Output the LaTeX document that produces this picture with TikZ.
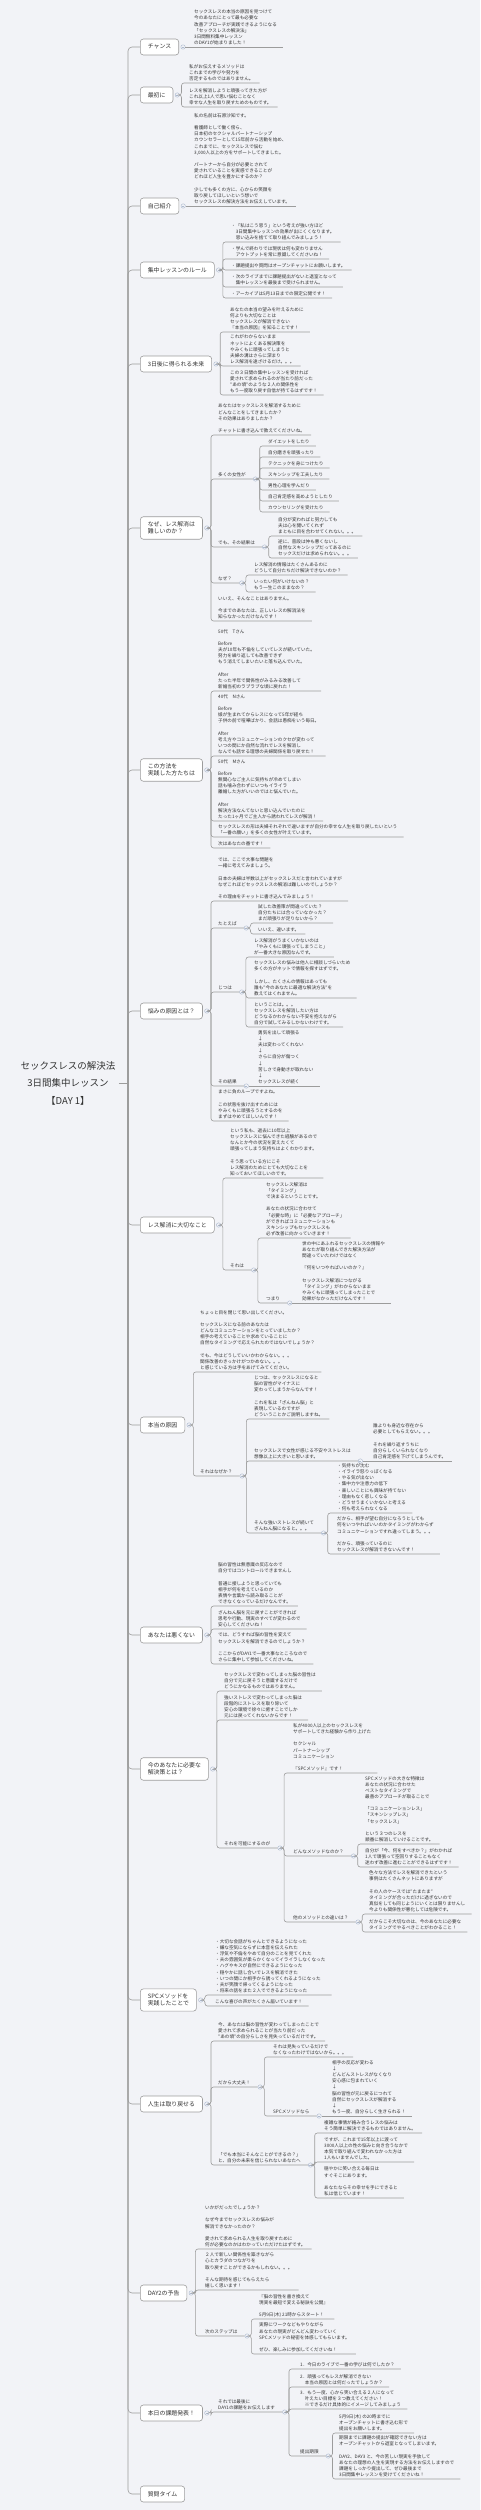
\documentclass[tikz,border=0pt]{standalone}
\usepackage{fontspec}
\setmainfont{Noto Sans CJK JP}
\definecolor{bgc}{HTML}{F2F3F7}
\definecolor{lnc}{HTML}{9C9C9C}
\definecolor{fdc}{HTML}{AEBBD0}
\definecolor{txc}{HTML}{333333}
\newcommand\gapline{\\[6.15pt]}

\begin{document}
\begin{tikzpicture}[x=1pt,y=-1pt,
  ln/.style={draw=lnc,line width=.6pt,rounded corners=2.5pt},
  topic/.style={draw=lnc,fill=white,rounded corners=3pt,line width=.6pt,anchor=west,align=left,inner xsep=7.5pt,inner ysep=4.8pt,minimum height=16pt,font=\fontsize{5.9}{7.4}\selectfont,text=txc},
  txt/.style={anchor=south west,align=left,inner xsep=0pt,inner ysep=2.3pt,text depth=0pt,font=\fontsize{4.6}{6.15}\selectfont,text=txc},
  fold/.style={circle,draw=fdc,fill=bgc,line width=.45pt,inner sep=0pt,minimum size=4.4pt,path picture={\draw[fdc,line width=.4pt] ([xshift=-1.1pt]path picture bounding box.center) -- ([xshift=1.1pt]path picture bounding box.center);}}]
  \useasboundingbox (0,0) rectangle (480,2510);
  \fill[bgc] (0,0) rectangle (480,2510);

  \node[font=\fontsize{9.5}{17.5}\selectfont,align=center,text=txc] (root) at (68,1083) {セックスレスの解決法\\3日間集中レッスン\\【DAY 1】};
  \coordinate (hub) at (128,1083);

  \node[topic] (chance) at (140,47) {チャンス};
  \node[topic] (first) at (140,95) {最初に};
  \node[topic] (intro) at (140,206) {自己紹介};
  \node[topic] (rules) at (140,270) {集中レッスンのルール};
  \node[topic] (future) at (140,364) {3日後に得られる未来};
  \node[topic] (why) at (140,528) {なぜ、レス解消は\\難しいのか？};
  \node[topic] (cases) at (140,770) {この方法を\\実践した方たちは};
  \node[topic] (cause) at (140,1011) {悩みの原因とは？};
  \node[topic] (key) at (140,1225) {レス解消に大切なこと};
  \node[topic] (real) at (140,1425) {本当の原因};
  \node[topic] (notyou) at (140,1635) {あなたは悪くない};
  \node[topic] (need) at (140,1769) {今のあなたに必要な\\解決策とは？};
  \node[topic] (spc) at (140,2000) {SPCメソッドを\\実践したことで};
  \node[topic] (life) at (140,2104) {人生は取り戻せる};
  \node[topic] (day2) at (140,2293) {DAY2の予告};
  \node[topic] (task) at (140,2413) {本日の課題発表！};
  \node[topic] (qa) at (140,2494) {質問タイム};

  \draw[ln] (root.east) -- (hub);
  \foreach \t in {chance,first,intro,rules,future,why,cases,cause,key,real,notyou,need,spc,life,day2,task,qa}
    \draw[ln,rounded corners=4pt] (hub) |- (\t.west);
  \foreach \t in {chance,first,intro,rules,future,why,cases,cause,key,real,notyou,need,spc,life,day2,task}
    \node[fold] (\t f) at ([xshift=4pt]\t.east) {};

  \node[txt] (chance1) at (194,47) {セックスレスの本当の原因を見つけて\\今のあなたにとって最も必要な\\改善アプローチが実践できるようになる\\「セックスレスの解決法」\\3日間無料集中レッスン\\のDAY1が始まりました！};
  \node[txt] (first1) at (189,83) {私がお伝えするメソッドは\\これまでの学びや努力を\\否定するものではありません。};
  \node[txt] (first2) at (189,107) {レスを解消しようと頑張ってきた方が\\これ以上1人で思い悩むことなく\\幸せな人生を取り戻すためのものです。};
  \node[txt] (intro1) at (194,206) {私の名前は石原沙知です。\gapline 看護師として働く傍ら、\\日本初のセクシャルパートナーシップ\\カウンセラーとして15年前から活動を始め、\\これまでに、セックスレスで悩む\\3,000人以上の方をサポートしてきました。\gapline パートナーから自分が必要とされて\\愛されていることを実感できることが\\どれほど人生を豊かにするのか？\gapline 少しでも多くの方に、心からの笑顔を\\取り戻してほしいという想いで\\セックスレスの解決方法をお伝えしています。};
  \foreach \k in {chance1} \draw[ln] (chancef.east) -- ([xshift=6pt]\k.south east);
  \foreach \k in {intro1} \draw[ln] (introf.east) -- ([xshift=6pt]\k.south east);
  \foreach \k in {first1,first2} \draw[ln] (firstf.east) -- ++(1.8,0) |- ([xshift=6pt]\k.south east);

  \node[txt] (rules1) at (231,242) {・「私はこう思う」という考えが強い方ほど\\　3日間集中レッスンの効果が出にくくなります。\\　思い込みを捨てて取り組んでみましょう！};
  \node[txt] (rules2) at (231,259) {・学んで終わりでは現状は何も変わりません\\　アウトプットを常に意識してくださいね！};
  \node[txt] (rules3) at (231,270) {・課題提出や質問はオープンチャットにお願いします。};
  \node[txt] (rules4) at (231,287) {・次のライブまでに課題提出がないと退室となって\\　集中レッスンを最後まで受けられません。};
  \node[txt] (rules5) at (231,298) {・アーカイブは5月13日までの限定公開です！};
  \foreach \k in {rules1,rules2,rules3,rules4,rules5} \draw[ln] (rulesf.east) -- ++(1.8,0) |- ([xshift=6pt]\k.south east);

  \node[txt] (future1) at (230,332) {あなたの本当の望みを叶えるために\\何よりも大切なことは\\セックスレスが解消できない\\『本当の原因』を知ることです！};
  \node[txt] (future2) at (230,366) {これがわからないまま\\ネットによくある解決策を\\やみくもに頑張ってしまうと\\夫婦の溝はさらに深まり\\レス解消を遠ざけるだけ。。。};
  \node[txt] (future3) at (230,395) {この３日間の集中レッスンを受ければ\\愛されて求められるのが当たり前だった\\“あの頃”のような２人の関係性を\\もう一度取り戻す自信が持てるはずです！};
  \foreach \k in {future1,future2,future3} \draw[ln] (futuref.east) -- ++(1.8,0) |- ([xshift=6pt]\k.south east);

  \node[txt] (why1) at (218,435) {あなたはセックスレスを解消するために\\どんなことをしてきましたか？\\その効果はありましたか？\gapline チャットに書き込んで教えてくださいね。};
  \node[txt] (whyA) at (218,479) {多くの女性が};
  \node[txt] (whyB) at (218,547) {でも、その結果は};
  \node[txt] (whyC) at (218,583) {なぜ？};
  \node[txt] (why5) at (218,621) {いいえ、そんなことはありません。\gapline 今までのあなたは、正しいレスの解消法を\\知らなかっただけなんです！};
  \foreach \k in {whyA,whyB,whyC} \node[fold] (\k f) at ([xshift=9.5pt]\k.south east) {};
  \foreach \k in {why1,why5} \draw[ln] (whyf.east) -- ++(1.8,0) |- ([xshift=6pt]\k.south east);
  \foreach \k in {whyA,whyB,whyC} \draw[ln] (whyf.east) -- ++(1.8,0) |- (\k f.west);
  \foreach \t [count=\i] in {ダイエットをしたり,自分磨きを頑張ったり,テクニックを身につけたり,スキンシップを工夫したり,男性心理を学んだり,自己肯定感を高めようとしたり,カウンセリングを受けたり}{
    \node[txt] (whyA\i) at (268,435+11*\i) {\t};
    \draw[ln] (whyAf.east) -- ++(1.8,0) |- ([xshift=6pt]whyA\i.south east);
  }
  \node[txt] (whyB1) at (278,536) {自分が変わればと努力しても\\夫は心を開いてくれず\\まともに目を合わせてくれない。。。};
  \node[txt] (whyB2) at (278,558) {逆に、普段は仲も悪くないし\\自然なスキンシップだってあるのに\\セックスだけは求められない。。。};
  \node[txt] (whyC1) at (254,575) {レス解消の情報はたくさんあるのに\\どうして自分たちだけ解決できないのか？};
  \node[txt] (whyC2) at (254,592) {いったい何がいけないの？\\もう一生このままなの？};
  \foreach \k in {whyB1,whyB2} \draw[ln] (whyBf.east) -- ++(1.8,0) |- ([xshift=6pt]\k.south east);
  \foreach \k in {whyC1,whyC2} \draw[ln] (whyCf.east) -- ++(1.8,0) |- ([xshift=6pt]\k.south east);

  \node[txt] (cases1) at (218,691) {50代　Tさん\gapline Before\\夫が10年も不倫をしていてレスが続いていた。\\努力を繰り返しても改善できず\\もう消えてしまいたいと落ち込んでいた。\gapline After\\たった半年で関係性がみるみる改善して\\新婚当初のラブラブな頃に戻れた！};
  \node[txt] (cases2) at (218,756) {40代　Nさん\gapline Before\\娘が生まれてからレスになって5年が経ち\\子供の前で喧嘩ばかり、会話は愚痴をいう毎日。\gapline After\\考え方やコミュニケーションのクセが変わって\\いつの間にか自然な流れでレスを解消し\\なんでも話せる理想の夫婦関係を取り戻せた！};
  \node[txt] (cases3) at (218,821) {50代　Mさん\gapline Before\\無関心なご主人に気持ちが冷めてしまい\\話も噛み合わずにいつもイライラ\\離婚した方がいいのではと悩んでいた。\gapline After\\解決方法なんてないと思い込んでいたのに\\たった1ヶ月でご主人から誘われてレスが解消！};
  \node[txt] (cases4) at (218,837) {セックスレスの形は夫婦それぞれで違いますが自分の幸せな人生を取り戻したいという\\「一番の願い」を多くの女性が叶えています。};
  \node[txt] (cases5) at (218,848) {次はあなたの番です！};
  \foreach \k in {cases1,cases2,cases3,cases4,cases5} \draw[ln] (casesf.east) -- ++(1.8,0) |- ([xshift=6pt]\k.south east);

  \node[txt] (cause1) at (218,901) {では、ここで大事な問題を\\一緒に考えてみましょう。\gapline 日本の夫婦は半数以上がセックスレスだと言われていますが\\なぜこれほどセックスレスの解消は難しいのでしょうか？\gapline その理由をチャットに書き込んでみましょう！};
  \node[txt] (causeA) at (218,928) {たとえば};
  \node[txt] (causeB) at (218,992) {じつは};
  \node[txt] (causeC) at (218,1086) {その結果};
  \node[txt] (cause5) at (218,1121) {まさに負のループですよね。\gapline この状態を抜け出すためには\\やみくもに頑張ろうとするのを\\まずはやめてほしいんです！};
  \foreach \k in {causeA,causeB,causeC} \node[fold] (\k f) at ([xshift=9.5pt]\k.south east) {};
  \foreach \k in {cause1,cause5} \draw[ln] (causef.east) -- ++(1.8,0) |- ([xshift=6pt]\k.south east);
  \foreach \k in {causeA,causeB,causeC} \draw[ln] (causef.east) -- ++(1.8,0) |- (\k f.west);
  \node[txt] (causeA1) at (258,923) {試した改善策が間違っていた？\\自分たちには合っていなかった？\\まだ頑張りが足りないから？};
  \node[txt] (causeA2) at (258,934) {いいえ、違います。};
  \node[txt] (causeB1) at (254,957) {レス解消がうまくいかないのは\\「やみくもに頑張ってしまうこと」\\が一番大きな原因なんです。};
  \node[txt] (causeB2) at (254,998) {セックスレスの悩みは他人に相談しづらいため\\多くの方がネットで情報を探すはずです。\gapline しかし、たくさんの情報はあっても\\誰も“今のあなたに最適な解決方法”を\\教えてはくれません。};
  \node[txt] (causeB3) at (254,1027) {ということは。。。\\セックスレスを解消したい方は\\どうなるかわからない不安を抱えながら\\自分で試してみるしかないわけです。};
  \node[txt] (causeC1) at (258,1086) {勇気を出して頑張る\\↓\\夫は変わってくれない\\↓\\さらに自分が傷つく\\↓\\苦しさで身動きが取れない\\↓\\セックスレスが続く};
  \foreach \k in {causeA1,causeA2} \draw[ln] (causeAf.east) -- ++(1.8,0) |- ([xshift=6pt]\k.south east);
  \foreach \k in {causeB1,causeB2,causeB3} \draw[ln] (causeBf.east) -- ++(1.8,0) |- ([xshift=6pt]\k.south east);
  \draw[ln] (causeCf.east) -- ([xshift=6pt]causeC1.south east);

  \node[txt] (key1) at (230,1178) {という私も、過去に10年以上\\セックスレスに悩んできた経験があるので\\なんとか今の状況を変えたくて\\頑張ってしまう気持ちはよくわかります。\gapline そう思っている方にこそ\\レス解消のためにとても大切なことを\\知っておいてほしいのです。};
  \node[txt] (keyA) at (230,1270) {それは};
  \node[fold] (keyAf) at ([xshift=9.5pt]keyA.south east) {};
  \draw[ln] (keyf.east) -- ++(1.8,0) |- ([xshift=6pt]key1.south east);
  \draw[ln] (keyf.east) -- ++(1.8,0) |- (keyAf.west);
  \node[txt] (keyA1) at (266,1238) {セックスレス解消は\\「タイミング」\\で決まるということです。\gapline あなたの状況に合わせて\\「必要な時」に「必要なアプローチ」\\ができればコミュニケーションも\\スキンシップもセックスレスも\\必ず改善に向かっていきます！};
  \node[txt] (keyB) at (266,1303) {つまり};
  \node[fold] (keyBf) at ([xshift=9.5pt]keyB.south east) {};
  \draw[ln] (keyAf.east) -- ++(1.8,0) |- ([xshift=6pt]keyA1.south east);
  \draw[ln] (keyAf.east) -- ++(1.8,0) |- (keyBf.west);
  \node[txt] (keyB1) at (302,1303) {世の中にあふれるセックスレスの情報や\\あなたが取り組んできた解決方法が\\間違っていたわけではなく\gapline 『何をいつやればいいのか？』\gapline セックスレス解消につながる\\「タイミング」がわからないまま\\やみくもに頑張ってしまったことで\\効果がなかっただけなんです！};
  \draw[ln] (keyBf.east) -- ([xshift=6pt]keyB1.south east);

  \node[txt] (real1) at (200,1372) {ちょっと目を閉じて思い出してください。\gapline セックスレスになる前のあなたは\\どんなコミュニケーションをとっていましたか？\\相手の考えていることや求めていることに\\自然なタイミングで応えられたのではないでしょうか？\gapline でも、今はどうしていいかわからない。。。\\関係改善のきっかけがつかめない。。。\\と感じている方は手をあげてみてください。};
  \node[txt] (realA) at (200,1476) {それはなぜか？};
  \node[fold] (realAf) at ([xshift=9.5pt]realA.south east) {};
  \draw[ln] (realf.east) -- ++(1.8,0) |- ([xshift=6pt]real1.south east);
  \draw[ln] (realf.east) -- ++(1.8,0) |- (realAf.west);
  \node[txt] (realA1) at (254,1419) {じつは、セックスレスになると\\脳の習性がマイナスに\\変わってしまうからなんです！\gapline これを私は「ざんねん脳」と\\表現しているのですが\\どういうことかご説明しますね。};
  \node[txt] (realB) at (254,1461) {セックスレスで女性が感じる不安やストレスは\\想像以上に大きいと思います。};
  \node[txt] (realC) at (254,1533) {そんな強いストレスが続いて\\ざんねん脳になると。。。};
  \foreach \k in {realB,realC} \node[fold] (\k f) at ([xshift=9.5pt]\k.south east) {};
  \draw[ln] (realAf.east) -- ++(1.8,0) |- ([xshift=6pt]realA1.south east);
  \foreach \k in {realB,realC} \draw[ln] (realAf.east) -- ++(1.8,0) |- (\k f.west);
  \node[txt] (realB1) at (373,1461) {誰よりも身近な存在から\\必要としてもらえない。。。\gapline それを繰り返すうちに\\自分らしくいられなくなり\\自己肯定感を下げてしまうんです。};
  \draw[ln] (realBf.east) -- ([xshift=6pt]realB1.south east);
  \node[txt] (realC1) at (337,1513) {・気持ちが沈む\\・イライラ怒りっぽくなる\\・やる気が出ない\\・集中力や注意力の低下\\・楽しいことにも興味が持てない\\・理由もなく悲しくなる\\・どうせうまくいかないと考える\\・何も考えられなくなる};
  \node[txt] (realC2) at (337,1554) {だから、相手が望む自分になろうとしても\\何をいつやればいいのかタイミングがわからず\\コミュニケーションですれ違ってしまう。。。\gapline だから、頑張っているのに\\セックスレスが解消できないんです！};
  \foreach \k in {realC1,realC2} \draw[ln] (realCf.east) -- ++(1.8,0) |- ([xshift=6pt]\k.south east);

  \node[txt] (notyou1) at (218,1606) {脳の習性は無意識の反応なので\\自分ではコントロールできませんし\gapline 普通に接しようと思っていても\\相手が何を考えているのか\\表情や言葉から読み取ることが\\できなくなっているだけなんです。};
  \node[txt] (notyou2) at (218,1629) {ざんねん脳を元に戻すことができれば\\思考や行動、現実のすべてが変わるので\\安心してくださいね！};
  \node[txt] (notyou3) at (218,1664) {では、どうすれば脳の習性を変えて\\セックスレスを解消できるのでしょうか？\gapline ここからがDAY1で一番大事なところなので\\さらに集中して参加してくださいね。};
  \foreach \k in {notyou1,notyou2,notyou3} \draw[ln] (notyouf.east) -- ++(1.8,0) |- ([xshift=6pt]\k.south east);

  \node[txt] (need1) at (224,1691) {セックスレスで変わってしまった脳の習性は\\自分で元に戻そうと意識するだけで\\どうにかなるものではありません。};
  \node[txt] (need2) at (224,1720) {強いストレスで変わってしまった脳は\\段階的にストレスを取り除いて\\安心の環境で徐々に癒すことでしか\\元には戻ってくれないからです！};
  \node[txt] (needA) at (224,1848) {それを可能にするのが};
  \node[fold] (needAf) at ([xshift=9.5pt]needA.south east) {};
  \foreach \k in {need1,need2} \draw[ln] (needf.east) -- ++(1.8,0) |- ([xshift=6pt]\k.south east);
  \draw[ln] (needf.east) -- ++(1.8,0) |- (needAf.west);
  \node[txt] (needA1) at (293,1773) {私が4000人以上のセックスレスを\\サポートしてきた経験から作り上げた\gapline セクシャル\\パートナーシップ\\コミュニケーション\gapline 『SPCメソッド』です！};
  \node[txt] (needB) at (293,1856) {どんなメソッドなのか？};
  \node[txt] (needC) at (293,1922) {他のメソッドとの違いは？};
  \foreach \k in {needB,needC} \node[fold] (\k f) at ([xshift=9.5pt]\k.south east) {};
  \draw[ln] (needAf.east) -- ++(1.8,0) |- ([xshift=6pt]needA1.south east);
  \foreach \k in {needB,needC} \draw[ln] (needAf.east) -- ++(1.8,0) |- (\k f.west);
  \node[txt] (needB1) at (365,1844) {SPCメソッドの大きな特徴は\\あなたの状況に合わせた\\ベストなタイミングで\\最善のアプローチが取ることで\gapline 「コミュニケーションレス」\\「スキンシップレス」\\「セックスレス」\gapline という３つのレスを\\順番に解消していけることです。};
  \node[txt] (needB2) at (365,1867) {自分が「今、何をすべきか？」がわかれば\\1人で頑張って空回りすることもなく\\迷わず改善に進むことができるはずです！};
  \node[txt] (needC1) at (369,1914) {色々な方法でレスを解消できたという\\事例はたくさんネットにありますが\gapline その人のケースでは“たまたま”\\タイミングが合っただけに過ぎないので\\真似をしても同じようにいくとは限りませんし\\今よりも関係性が悪化しては危険です。};
  \node[txt] (needC2) at (369,1932) {だからこそ大切なのは、今のあなたに必要な\\タイミングでやるべきことがわかること！};
  \foreach \k in {needB1,needB2} \draw[ln] (needBf.east) -- ++(1.8,0) |- ([xshift=6pt]\k.south east);
  \foreach \k in {needC1,needC2} \draw[ln] (needCf.east) -- ++(1.8,0) |- ([xshift=6pt]\k.south east);

  \node[txt] (spc1) at (215,1995) {・大切な会話がちゃんとできるようになった\\・嫌な空気にならずに本音を伝えられた\\・浮気や不倫をやめて自分のことを見てくれた\\・夫の雰囲気が柔らかくなってイライラしなくなった\\・ハグやキスが自然にできるようになった\\・穏やかに話し合いでレスを解消できた\\・いつの間にか相手から誘ってくれるようになった\\・夫が笑顔で帰ってくるようになった\\・将来の話をまた２人でできるようになった};
  \node[txt] (spc2) at (215,2006) {こんな喜びの声がたくさん届いています！};
  \foreach \k in {spc1,spc2} \draw[ln] (spcf.east) -- ++(1.8,0) |- ([xshift=6pt]\k.south east);

  \node[txt] (life1) at (218,2041) {今、あなたは脳の習性が変わってしまったことで\\愛されて求められることが当たり前だった\\“あの頃”の自分らしさを見失っているだけです。};
  \node[txt] (lifeA) at (218,2087) {だから大丈夫！};
  \node[txt] (lifeC) at (218,2165) {「でも本当にそんなことができるの？」\\と、自分の未来を信じられないあなたへ};
  \foreach \k in {lifeA,lifeC} \node[fold] (\k f) at ([xshift=9.5pt]\k.south east) {};
  \draw[ln] (lifef.east) -- ++(1.8,0) |- ([xshift=6pt]life1.south east);
  \foreach \k in {lifeA,lifeC} \draw[ln] (lifef.east) -- ++(1.8,0) |- (\k f.west);
  \node[txt] (lifeA1) at (273,2057) {それは見失っているだけで\\なくなったわけではないから。。。};
  \node[txt] (lifeB) at (273,2116) {SPCメソッドなら};
  \node[fold] (lifeBf) at ([xshift=9.5pt]lifeB.south east) {};
  \draw[ln] (lifeAf.east) -- ++(1.8,0) |- ([xshift=6pt]lifeA1.south east);
  \draw[ln] (lifeAf.east) -- ++(1.8,0) |- (lifeBf.west);
  \node[txt] (lifeB1) at (332,2116) {相手の反応が変わる\\↓\\どんどんストレスがなくなり\\安心感に包まれていく\\↓\\脳の習性が元に戻るにつれて\\自然にセックスレスが解消する\\↓\\もう一度、自分らしく生きられる！};
  \draw[ln] (lifeBf.east) -- ([xshift=6pt]lifeB1.south east);
  \node[txt] (lifeC1) at (324,2133) {複雑な事情が絡み合うレスの悩みは\\そう簡単に解決できるものではありません。};
  \node[txt] (lifeC2) at (324,2162) {ですが、これまで15年以上に渡って\\3000人以上の性の悩みと向き合うなかで\\本気で取り組んで変われなかった方は\\1人もいませんでした。};
  \node[txt] (lifeC3) at (324,2198) {穏やかに笑い合える毎日は\\すぐそこにあります。\gapline あなたならその幸せを手にできると\\私は信じています！};
  \foreach \k in {lifeC1,lifeC2,lifeC3} \draw[ln] (lifeCf.east) -- ++(1.8,0) |- ([xshift=6pt]\k.south east);

  \node[txt] (day2a) at (205,2249) {いかがだったでしょうか？\gapline なぜ今までセックスレスの悩みが\\解消できなかったのか？\gapline 愛されて求められる人生を取り戻すために\\何が必要なのかはわかっていただけたはずです。};
  \node[txt] (day2b) at (205,2290) {２人で新しい関係性を築きながら\\心とカラダのつながりを\\取り戻すことができるかもしれない。。。\gapline そんな期待を感じてもらえたら\\嬉しく思います！};
  \node[txt] (day2C) at (205,2336) {次のステップは};
  \node[fold] (day2Cf) at ([xshift=9.5pt]day2C.south east) {};
  \foreach \k in {day2a,day2b} \draw[ln] (day2f.east) -- ++(1.8,0) |- ([xshift=6pt]\k.south east);
  \draw[ln] (day2f.east) -- ++(1.8,0) |- (day2Cf.west);
  \node[txt] (day2C1) at (259,2319) {『脳の習性を書き換えて\\現実を最短で変える秘訣を公開』\gapline 5月9日(木) 21時からスタート！};
  \node[txt] (day2C2) at (259,2354) {実際にワークなどもやりながら\\あなたの現実がどんどん変わっていく\\SPCメソッドの秘密を体感してもらいます。\gapline ぜひ、楽しみに参加してくださいね！};
  \foreach \k in {day2C1,day2C2} \draw[ln] (day2Cf.east) -- ++(1.8,0) |- ([xshift=6pt]\k.south east);

  \node[txt] (taskA) at (218,2412) {それでは最後に\\DAY1の課題をお伝えします};
  \node[fold] (taskAf) at ([xshift=9.5pt]taskA.south east) {};
  \draw[ln] (taskf.east) -- ++(1.8,0) |- (taskAf.west);
  \node[txt] (task1) at (300,2369) {1．今日のライブで一番の学びは何でしたか？};
  \node[txt] (task2) at (300,2387) {2．頑張ってもレスが解消できない\\　本当の原因とは何だったでしょうか？};
  \node[txt] (task3) at (300,2409) {3．もう一度、心から笑い合える２人になって\\　叶えたい目標を３つ教えてください！\\　※できるだけ具体的にイメージしてみましょう};
  \node[txt] (taskB) at (300,2456) {提出期限};
  \node[fold] (taskBf) at ([xshift=9.5pt]taskB.south east) {};
  \foreach \k in {task1,task2,task3} \draw[ln] (taskAf.east) -- ++(1.8,0) |- ([xshift=6pt]\k.south east);
  \draw[ln] (taskAf.east) -- ++(1.8,0) |- (taskBf.west);
  \node[txt] (taskB1) at (339,2433) {5月9日(木) の20時までに\\オープンチャットに書き込む形で\\提出をお願いします。};
  \node[txt] (taskB2) at (339,2479) {期限までに課題の提出が確認できない方は\\オープンチャットから退室となってしまいます。\gapline DAY2、DAY3 と、今の苦しい現実を手放して\\あなたの理想の人生を実現する方法をお伝えしますので\\課題をしっかり提出して、ぜひ最後まで\\3日間集中レッスンを受けてくださいね！};
  \foreach \k in {taskB1,taskB2} \draw[ln] (taskBf.east) -- ++(1.8,0) |- ([xshift=6pt]\k.south east);
\end{tikzpicture}
\end{document}
